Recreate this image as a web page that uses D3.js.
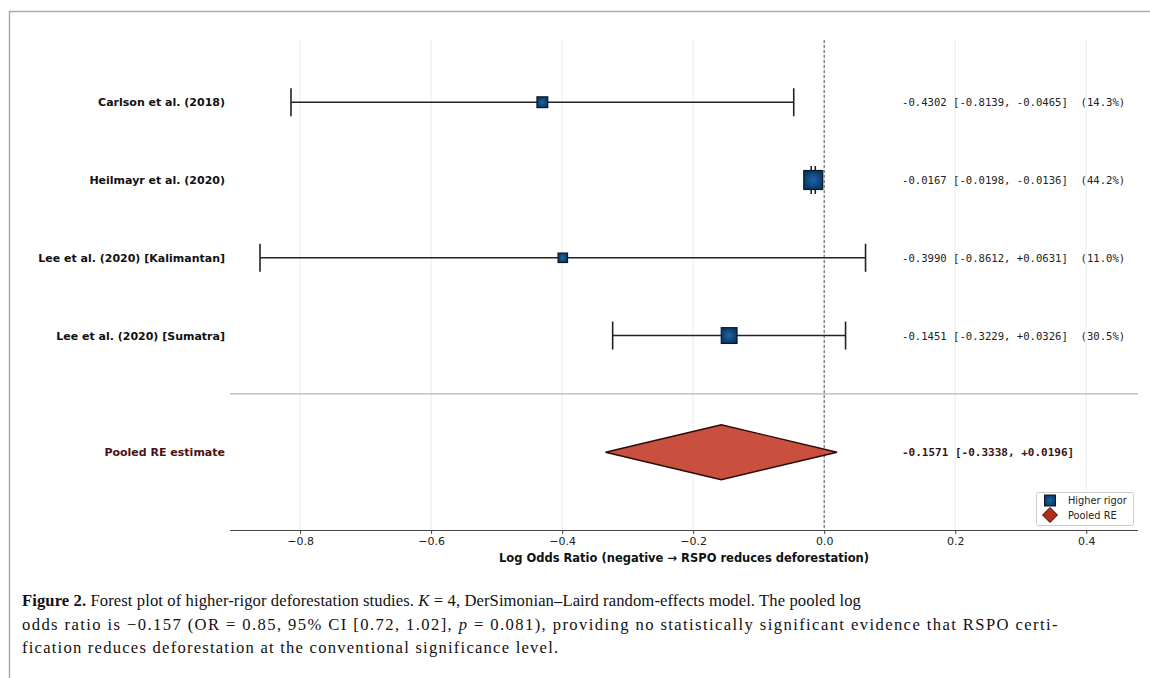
<!DOCTYPE html>
<html>
<head>
<meta charset="utf-8">
<script src="https://cdn.jsdelivr.net/npm/d3@7"></script>
<style>
  html, body { margin: 0; padding: 0; background: #fff; }
  svg { display: block; }
</style>
</head>
<body>
<svg id="chart" width="1150" height="678"></svg>
<script>
// ---------------- data ----------------
const studies = ["Carlson et al. (2018)", "Heilmayr et al. (2020)", "Lee et al. (2020) [Kalimantan]", "Lee et al. (2020) [Sumatra]"];
const estimates = [-0.4302, -0.0167, -0.3990, -0.1451];
const ciLow = [-0.8139, -0.0198, -0.8612, -0.3229];
const ciHigh = [-0.0465, -0.0136, 0.0631, 0.0326];
const weights = [14.3, 44.2, 11.0, 30.5];
const pooledLabel = "Pooled RE estimate";
const pooled = [-0.1571, -0.3338, 0.0196]; // estimate, low, high
const xTicks = [-0.8, -0.6, -0.4, -0.2, 0.0, 0.2, 0.4];
const legendLabels = ["Higher rigor", "Pooled RE"];
const xLabel = "Log Odds Ratio (negative \u2192 RSPO reduces deforestation)";

const svg = d3.select("#chart");

// page frame (left & top rules)
svg.append("line").attr("x1", 9.5).attr("x2", 9.5).attr("y1", 11).attr("y2", 678).attr("stroke", "#aaa").attr("stroke-width", 1.5);
svg.append("line").attr("x1", 9).attr("x2", 1150).attr("y1", 11.5).attr("y2", 11.5).attr("stroke", "#aaa").attr("stroke-width", 1.5);

const x = d3.scaleLinear().domain([-0.907, 0.479]).range([230, 1138]);
const y = d3.scaleLinear().domain([-0.8, 5.5]).range([40, 530]);
const size = d3.scaleSqrt().domain([0, 1]).range([0, 2.85]);

const fmt = v => (v >= 0 ? "+" : "") + v.toFixed(4);
const fmtS = v => v.toFixed(4);

// grid
svg.append("g").selectAll("line").data(xTicks).join("line")
  .attr("x1", d => x(d)).attr("x2", d => x(d))
  .attr("y1", 40).attr("y2", 530)
  .attr("stroke", "#ebebeb").attr("stroke-width", 1);

// separator
svg.append("line").attr("x1", 230).attr("x2", 1138)
  .attr("y1", y(3.75)).attr("y2", y(3.75))
  .attr("stroke", "#b5b5b5").attr("stroke-width", 1.2);

// zero dashed line
svg.append("line").attr("x1", x(0)).attr("x2", x(0))
  .attr("y1", 40).attr("y2", 530)
  .attr("stroke", "#666").attr("stroke-width", 1.1).attr("stroke-dasharray", "3,2");

// axis
const axis = d3.axisBottom(x).tickValues(xTicks).tickSize(4).tickPadding(3)
  .tickFormat(d => d3.format(".1f")(d).replace("-", "\u2212"));
const gAx = svg.append("g").attr("transform", "translate(0,530)").call(axis);
gAx.select(".domain").attr("stroke", "#444").attr("stroke-width", 1.2).attr("d", "M230,0.5H1138");
gAx.selectAll(".tick line").attr("stroke", "#444");
gAx.selectAll(".tick text").attr("font-family", "DejaVu Sans").attr("font-size", 11).attr("fill", "#222");

svg.append("text").attr("x", 684).attr("y", 562).attr("text-anchor", "middle")
  .attr("font-family", "DejaVu Sans").attr("font-weight", "bold").attr("font-size", 11.5).attr("fill", "#111")
  .text(xLabel);

// error bars
const rows = studies.map((s, i) => ({ s, i, est: estimates[i], lo: ciLow[i], hi: ciHigh[i], w: weights[i] }));
const gRows = svg.append("g");
rows.forEach(r => {
  const yy = y(r.i);
  gRows.append("line").attr("x1", x(r.lo)).attr("x2", x(r.hi)).attr("y1", yy).attr("y2", yy)
    .attr("stroke", "#222").attr("stroke-width", 1.6);
  [r.lo, r.hi].forEach(v => {
    gRows.append("line").attr("x1", x(v)).attr("x2", x(v)).attr("y1", yy - 14).attr("y2", yy + 14)
      .attr("stroke", "#222").attr("stroke-width", 1.6);
  });
});

// gradient for markers
const defs = svg.append("defs");
const grad = defs.append("radialGradient").attr("id", "sq");
grad.append("stop").attr("offset", "0%").attr("stop-color", "#1d64a8");
grad.append("stop").attr("offset", "100%").attr("stop-color", "#0b3a68");

gRows.selectAll("rect").data(rows).join("rect")
  .attr("x", d => x(d.est) - size(d.w) / 2)
  .attr("y", d => y(d.i) - size(d.w) / 2)
  .attr("width", d => size(d.w)).attr("height", d => size(d.w))
  .attr("fill", "url(#sq)").attr("stroke", "#0a1622").attr("stroke-width", 1.2);

// study labels
svg.append("g").selectAll("text").data(rows).join("text")
  .attr("x", 225).attr("y", d => y(d.i) + 4).attr("text-anchor", "end")
  .attr("font-family", "DejaVu Sans").attr("font-weight", "bold").attr("font-size", 11).attr("fill", "#111")
  .text(d => d.s);

// annotations
svg.append("g").selectAll("text").data(rows).join("text")
  .attr("x", 902).attr("y", d => y(d.i) + 4)
  .attr("font-family", "DejaVu Sans Mono").attr("font-size", 10.6).attr("fill", "#222")
  .attr("xml:space", "preserve").style("white-space", "pre")
  .text(d => `${fmtS(d.est)} [${fmt(d.lo)}, ${fmt(d.hi)}]  (${d.w.toFixed(1)}%)`);

// pooled diamond
const py = y(4.5);
const dh = 27.5;
svg.append("path")
  .attr("d", `M${x(pooled[1])},${py} L${x(pooled[0])},${py - dh} L${x(pooled[2])},${py} L${x(pooled[0])},${py + dh} Z`)
  .attr("fill", "#c94f3f").attr("stroke", "#2a0a06").attr("stroke-width", 1.4).attr("stroke-linejoin", "miter");

svg.append("text").attr("x", 225).attr("y", py + 4).attr("text-anchor", "end")
  .attr("font-family", "DejaVu Sans").attr("font-weight", "bold").attr("font-size", 11).attr("fill", "#4a1212")
  .text(pooledLabel);

svg.append("text").attr("x", 902).attr("y", py + 4)
  .attr("font-family", "DejaVu Sans Mono").attr("font-weight", "bold").attr("font-size", 11).attr("fill", "#3a1414")
  .text(`${fmtS(pooled[0])} [${fmt(pooled[1])}, ${fmt(pooled[2])}]`);

// legend
const lg = svg.append("g").attr("transform", "translate(1036,492)");
lg.append("rect").attr("x", 0.5).attr("y", 0.5).attr("width", 97).attr("height", 33).attr("rx", 2)
  .attr("fill", "#fff").attr("stroke", "#ccc").attr("stroke-width", 1);
lg.append("rect").attr("x", 8.5).attr("y", 3).attr("width", 11).attr("height", 11)
  .attr("fill", "url(#sq)").attr("stroke", "#0a1622").attr("stroke-width", 1);
lg.append("path").attr("d", "M14,15.5 L21.5,23 L14,30.5 L6.5,23 Z")
  .attr("fill", "#b52c1c").attr("stroke", "#2a0a06").attr("stroke-width", 1);
lg.selectAll("text.l").data(legendLabels).join("text").attr("class", "l")
  .attr("x", 32).attr("y", (d, i) => 12 + i * 15)
  .attr("font-family", "DejaVu Sans").attr("font-size", 9.8).attr("fill", "#222")
  .text(d => d);

// caption
const cap = svg.append("g").attr("font-family", "Liberation Serif").attr("font-size", 17.5).attr("fill", "#111");
const l1 = cap.append("text").attr("data-y", 606).attr("data-w", 840);
l1.append("tspan").attr("font-weight", "bold").text("Figure 2.");
l1.append("tspan").text(" Forest plot of higher-rigor deforestation studies. ");
l1.append("tspan").attr("font-style", "italic").text("K");
l1.append("tspan").text(" = 4, DerSimonian\u2013Laird random-effects model. The pooled log");
const l2 = cap.append("text").attr("data-y", 630).attr("data-w", 1038);
l2.append("tspan").text("odds ratio is \u22120.157 (OR = 0.85, 95% CI [0.72, 1.02], ");
l2.append("tspan").attr("font-style", "italic").text("p");
l2.append("tspan").text(" = 0.081), providing no statistically significant evidence that RSPO certi-");
const l3 = cap.append("text").attr("data-y", 653).attr("data-w", 538)
  .text("fication reduces deforestation at the conventional significance level.");

// same slight horizontal condensation on every line, then letter-spacing to reach each line's width
const sx0 = 0.95;
[l1, l2, l3].forEach(t => {
  const w = t.node().getComputedTextLength();
  const n = t.text().length;
  const ls = (+t.attr("data-w") / sx0 - w) / n;
  t.attr("x", 0).attr("y", 0).attr("letter-spacing", ls)
   .attr("transform", `translate(22,${t.attr("data-y")}) scale(${sx0},1)`);
});
</script>
</body>
</html>
